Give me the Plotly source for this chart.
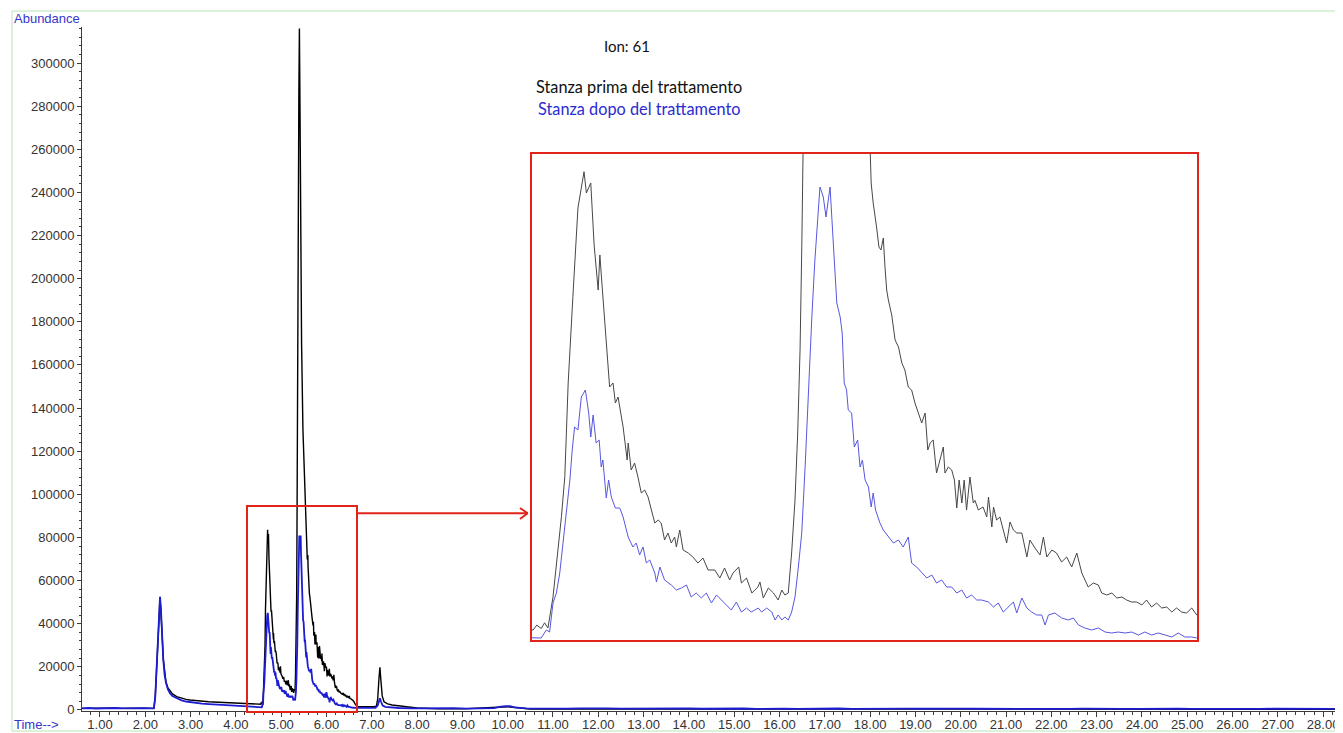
import plotly.graph_objects as go

# ---------------- data (time in min, abundance) ----------------
# "Stanza prima del trattamento" (black trace)
prima = [
    (0.60, 700), (0.80, 850), (1.00, 650), (1.20, 800), (1.40, 700), (1.60, 850), (1.80, 650),
    (2.00, 800), (2.15, 700), (2.19, 800), (2.22, 6000), (2.265, 23000), (2.295, 38600),
    (2.325, 52500), (2.345, 47000), (2.362, 38600), (2.398, 23500), (2.425, 17000),
    (2.457, 13000), (2.50, 10200), (2.545, 8700), (2.60, 7400), (2.693, 6200), (2.80, 5400),
    (2.90, 4900), (2.987, 4600), (3.10, 4300), (3.25, 4000), (3.40, 3800), (3.50, 3700),
    (3.65, 3500), (3.80, 3300), (3.95, 3200), (4.09, 3000), (4.20, 2800), (4.35, 2700),
    (4.45, 2600), (4.50, 2700),
    (4.549, 2635), (4.560, 3500), (4.573, 2900), (4.583, 3900), (4.593, 3000), (4.608, 8460),
    (4.633, 22635), (4.643, 29695), (4.653, 46230), (4.667, 61460), (4.682, 77120),
    (4.700, 83525), (4.707, 79765), (4.720, 81530), (4.730, 70590), (4.742, 62645),
    (4.747, 68825), (4.753, 63880), (4.766, 53290), (4.776, 45525), (4.786, 46230),
    (4.793, 42700), (4.801, 43760), (4.809, 40935), (4.816, 38460), (4.828, 32640),
    (4.831, 35640), (4.840, 30875), (4.850, 32100), (4.860, 29640), (4.870, 26815),
    (4.880, 27345), (4.890, 26110), (4.900, 23815), (4.910, 21520), (4.920, 22050),
    (4.929, 21520), (4.939, 18520), (4.949, 19755), (4.959, 17990), (4.969, 19050),
    (4.974, 17285), (4.984, 20285), (4.994, 16755), (5.009, 16225), (5.023, 15520),
    (5.038, 14460), (5.053, 15345), (5.068, 13225), (5.088, 13225), (5.103, 11815),
    (5.117, 13580), (5.132, 11460), (5.142, 12695), (5.159, 13755), (5.167, 10930),
    (5.182, 11815), (5.198, 9165), (5.216, 10225), (5.222, 11105), (5.232, 8285),
    (5.247, 10050), (5.262, 9165), (5.276, 7930), (5.287, 9695), (5.296, 8810),
    (5.306, 9165), (5.316, 16225), (5.326, 25580), (5.334, 37405), (5.341, 52055),
    (5.346, 69705), (5.351, 87355), (5.360, 130000), (5.375, 210000), (5.390, 285000),
    (5.402, 316000), (5.415, 280000), (5.430, 220000), (5.450, 170000), (5.480, 130000),
    (5.510, 108000), (5.535, 95000), (5.549, 87355), (5.552, 81530), (5.558, 77990),
    (5.568, 73765), (5.575, 70235), (5.581, 69705), (5.588, 71825), (5.593, 66705),
    (5.598, 62645), (5.603, 60885), (5.613, 58230), (5.623, 53820), (5.633, 52590),
    (5.643, 49760), (5.652, 48525), (5.662, 45525), (5.672, 44995), (5.682, 42700),
    (5.692, 40935), (5.702, 39170), (5.712, 40935), (5.720, 34405), (5.727, 35640),
    (5.736, 36170), (5.746, 30345), (5.756, 32640), (5.766, 34935), (5.771, 30345),
    (5.781, 31405), (5.791, 30875), (5.799, 29110), (5.806, 24165), (5.813, 29110),
    (5.821, 25050), (5.828, 29110), (5.835, 23815), (5.845, 29640), (5.855, 25050),
    (5.860, 25500), (5.870, 23815), (5.884, 24345), (5.895, 22580), (5.900, 26110),
    (5.910, 20815), (5.915, 24345), (5.924, 22050), (5.934, 22580), (5.944, 20285),
    (5.954, 17990), (5.964, 21700), (5.974, 20285), (5.984, 19755), (5.999, 19755),
    (6.014, 15520), (6.023, 18520), (6.038, 17110), (6.053, 15875), (6.063, 19050),
    (6.073, 15520), (6.088, 16755), (6.102, 16225), (6.117, 14640), (6.132, 15520),
    (6.147, 13755), (6.162, 16225), (6.177, 12695), (6.186, 11460), (6.196, 10225),
    (6.211, 10930), (6.226, 10580), (6.236, 9165), (6.251, 8810), (6.266, 9165),
    (6.281, 8285), (6.296, 8460), (6.310, 7930), (6.325, 7577), (6.340, 7577),
    (6.355, 7050), (6.369, 7930), (6.384, 6695), (6.399, 7400), (6.414, 6520),
    (6.429, 6695), (6.444, 5810), (6.458, 6520), (6.473, 5810), (6.488, 5635),
    (6.503, 6520), (6.518, 5285),
    (6.55, 5000), (6.60, 4000), (6.64, 2500), (6.68, 1600), (6.75, 1500), (6.85, 1400),
    (6.95, 1500), (7.05, 1450), (7.10, 1700), (7.13, 5000), (7.16, 15000), (7.18, 19800),
    (7.20, 14000), (7.23, 6500), (7.27, 3800), (7.35, 2800), (7.45, 2300), (7.60, 1900),
    (7.80, 1400), (8.00, 900), (8.50, 500), (9.00, 500), (10.00, 1500), (10.50, 450),
    (12.0, 400), (16.0, 380), (20.0, 350), (24.0, 350), (28.4, 330),
]

# "Stanza dopo del trattamento" (blue trace)
dopo = [
    (0.60, 750), (0.75, 900), (0.90, 650), (1.05, 850), (1.20, 700), (1.35, 900), (1.50, 700),
    (1.65, 850), (1.80, 650), (1.95, 800), (2.10, 700), (2.19, 700), (2.22, 6000),
    (2.265, 23185), (2.295, 38630), (2.325, 52400), (2.345, 47000), (2.362, 38630),
    (2.398, 23185), (2.425, 16500), (2.457, 12520), (2.50, 9500), (2.545, 7745),
    (2.60, 6400), (2.693, 5380), (2.80, 4400), (2.90, 3900), (2.987, 3600), (3.10, 3200),
    (3.25, 2900), (3.40, 2700), (3.50, 2600), (3.65, 2400), (3.80, 2200), (3.95, 2050),
    (4.09, 1950), (4.20, 1850), (4.35, 1750), (4.45, 1650), (4.53, 1300),
    (4.549, 1220), (4.573, 1220), (4.588, 2635), (4.598, 2280), (4.608, 7400),
    (4.618, 9165), (4.628, 12695), (4.638, 17990), (4.647, 22935), (4.658, 29110),
    (4.665, 34405), (4.672, 38460), (4.682, 37935), (4.692, 43760), (4.704, 44995),
    (4.714, 40935), (4.720, 36700), (4.727, 40580), (4.736, 35640), (4.745, 36170),
    (4.751, 31405), (4.756, 32640), (4.766, 25930), (4.773, 29110), (4.781, 26110),
    (4.793, 24165), (4.806, 24165), (4.816, 22580), (4.831, 19050), (4.845, 17285),
    (4.855, 17990), (4.865, 15875), (4.875, 17285), (4.885, 14460), (4.895, 15000),
    (4.910, 12695), (4.915, 11105), (4.925, 13755), (4.939, 11460), (4.959, 10580),
    (4.974, 9695), (4.989, 10050), (5.004, 10580), (5.018, 8460), (5.033, 9165),
    (5.048, 8285), (5.063, 9165), (5.078, 7400), (5.093, 8810), (5.108, 7930),
    (5.122, 7050), (5.137, 6165), (5.152, 7577), (5.167, 5810), (5.182, 6520),
    (5.196, 5810), (5.207, 6165), (5.217, 6520), (5.227, 5810), (5.242, 6520),
    (5.257, 5810), (5.267, 4400), (5.276, 5285), (5.287, 4400), (5.296, 4940),
    (5.306, 4400), (5.316, 5810), (5.326, 8460), (5.336, 13755), (5.346, 19755),
    (5.356, 31405), (5.366, 46230), (5.376, 57880), (5.385, 67940), (5.393, 75530),
    (5.400, 80825), (5.410, 79060), (5.418, 75530), (5.430, 80825), (5.437, 73235),
    (5.445, 66705), (5.450, 60350), (5.460, 57880), (5.466, 55055), (5.472, 46230),
    (5.479, 44995), (5.484, 41465), (5.494, 40935), (5.502, 34935), (5.512, 36170),
    (5.519, 31405), (5.526, 32640), (5.534, 29110), (5.544, 27875), (5.552, 24345),
    (5.558, 26815), (5.565, 23815), (5.578, 21520), (5.588, 20285), (5.603, 19050),
    (5.618, 17990), (5.633, 18520), (5.647, 17285), (5.662, 19050), (5.672, 14460),
    (5.687, 13755), (5.702, 12695), (5.717, 11815), (5.732, 12340), (5.746, 10930),
    (5.761, 11460), (5.776, 10225), (5.791, 10225), (5.806, 9165), (5.821, 9695),
    (5.835, 8285), (5.850, 8810), (5.865, 7930), (5.880, 7930), (5.900, 7577),
    (5.915, 6695), (5.929, 7400), (5.944, 5810), (5.959, 6695), (5.974, 7577),
    (5.984, 5635), (5.999, 8285), (6.014, 6520), (6.028, 5810), (6.043, 5285),
    (6.058, 5285), (6.068, 3520), (6.078, 5285), (6.097, 5635), (6.117, 4760),
    (6.137, 4400), (6.152, 4760), (6.167, 3520), (6.186, 2990), (6.206, 2635),
    (6.226, 2990), (6.246, 2280), (6.266, 2105), (6.285, 2280), (6.305, 2105),
    (6.325, 2280), (6.345, 1750), (6.364, 2280), (6.384, 1750), (6.404, 2105),
    (6.424, 1750), (6.444, 1400), (6.463, 2105), (6.483, 1400), (6.503, 1400),
    (6.518, 1220),
    (6.56, 1100), (6.62, 1000), (6.70, 950), (6.80, 850), (6.95, 1000), (7.08, 950),
    (7.13, 2000), (7.16, 4500), (7.18, 5400), (7.20, 4000), (7.24, 2000), (7.30, 1400),
    (7.45, 1100), (7.60, 900), (7.90, 700), (8.20, 850), (8.50, 650), (8.80, 800),
    (9.10, 600), (9.40, 750), (9.70, 850), (9.85, 1500), (9.95, 1800), (10.05, 1700),
    (10.15, 1200), (10.40, 750), (10.70, 600), (11.00, 750), (11.30, 600), (11.60, 700),
    (11.90, 550), (12.20, 700), (12.50, 600), (12.80, 650), (13.10, 550), (13.40, 650),
    (13.70, 550), (14.00, 700), (14.30, 550), (14.60, 650), (14.90, 550), (15.20, 650),
    (15.50, 500), (15.80, 650), (16.10, 550), (16.40, 500), (16.70, 600), (17.00, 550),
    (17.30, 650), (17.60, 500), (17.90, 600), (18.20, 550), (18.50, 500), (18.80, 600),
    (19.10, 550), (19.40, 650), (19.70, 500), (20.00, 600), (20.30, 550), (20.60, 500),
    (20.90, 650), (21.20, 500), (21.50, 600), (21.80, 450), (22.10, 550), (22.40, 500),
    (22.70, 600), (23.00, 450), (23.30, 550), (23.60, 500), (23.90, 450), (24.20, 600),
    (24.50, 500), (24.80, 550), (25.10, 450), (25.40, 600), (25.70, 500), (26.00, 450),
    (26.30, 600), (26.60, 450), (26.90, 550), (27.20, 500), (27.50, 600), (27.80, 450),
    (28.10, 550), (28.40, 500),
]

t_prima = [p[0] for p in prima]
v_prima = [p[1] for p in prima]
t_dopo = [p[0] for p in dopo]
v_dopo = [p[1] for p in dopo]

y_tick_vals = list(range(0, 300001, 20000))
ion_label = "Ion: 61"
name_prima = "Stanza prima del trattamento"
name_dopo = "Stanza dopo del trattamento"

# ---------------- geometry (window pixels; page body has an 8px margin) ----------------
WIN_W, WIN_H, OFF = 1343, 733, 8
W, H = WIN_W - OFF, WIN_H - OFF
PL, PT, PR, PB = 82, 27, 1341, 711          # plot area edges in window pixels
ML, MT = PL - OFF, PT - OFF
MR = W - (PR - OFF)
MB = H - (PB - OFF)
PW, PH = PR - PL, PB - PT


def px(xp):
    return (xp - PL) / PW


def py(yp):
    return (PB - yp) / PH


BLACK = "#000000"
BLUE = "#1c1cd2"
RED = "#e2231a"
AXIS_COL = "#3a3a3a"
TXT_BLUE = "#3535c8"

fig = go.Figure()

# main chromatogram
fig.add_trace(go.Scatter(x=t_prima, y=v_prima, mode="lines", name=name_prima,
                         line=dict(color=BLACK, width=1.4), xaxis="x", yaxis="y",
                         showlegend=False, hoverinfo="skip"))
fig.add_trace(go.Scatter(x=t_dopo, y=v_dopo, mode="lines", name=name_dopo,
                         line=dict(color=BLUE, width=1.8), xaxis="x", yaxis="y",
                         showlegend=False, hoverinfo="skip"))
# magnified inset
fig.add_trace(go.Scatter(x=t_prima, y=v_prima, mode="lines", name=name_prima,
                         line=dict(color="#474747", width=1), xaxis="x2", yaxis="y2",
                         showlegend=False, hoverinfo="skip"))
fig.add_trace(go.Scatter(x=t_dopo, y=v_dopo, mode="lines", name=name_dopo,
                         line=dict(color="#5757e0", width=1), xaxis="x2", yaxis="y2",
                         showlegend=False, hoverinfo="skip"))

tick_font = dict(family="Liberation Sans, Arial, sans-serif", size=13, color="#333333")

fig.update_layout(
    width=W, height=H,
    margin=dict(l=ML, r=MR, t=MT, b=MB, autoexpand=False),
    paper_bgcolor="white", plot_bgcolor="white",
    showlegend=False,
    xaxis=dict(range=[0.603, 28.395], showgrid=False, zeroline=False,
               showline=True, linecolor=AXIS_COL, linewidth=1,
               ticks="outside", ticklen=5, tickcolor=AXIS_COL, tickwidth=1,
               tick0=0, dtick=1, tickformat=".2f", tickfont=tick_font,
               ticklabelstandoff=-4,
               minor=dict(ticks="outside", dtick=0.2, ticklen=3, tickcolor=AXIS_COL),
               fixedrange=True),
    yaxis=dict(range=[-500, 316700], showgrid=False, zeroline=False,
               showline=True, linecolor=AXIS_COL, linewidth=1,
               ticks="outside", ticklen=4, tickcolor=AXIS_COL, tickwidth=1,
               tickvals=y_tick_vals, tickformat="d", tickfont=tick_font,
               minor=dict(ticks="outside", dtick=4000, ticklen=2, tickcolor=AXIS_COL),
               fixedrange=True),
    xaxis2=dict(domain=[px(531), px(1198)], range=[4.5427, 6.5217], anchor="y2",
                visible=False, fixedrange=True),
    yaxis2=dict(domain=[py(641), py(153)], range=[695, 86825], anchor="x2",
                visible=False, fixedrange=True),
)

shapes = [
    # light green outer frame
    dict(type="rect", xref="paper", yref="paper", x0=px(12), x1=px(1342), y0=py(731), y1=py(11),
         line=dict(color="#b5e6b5", width=1), layer="below"),
    # red box on the main chart
    dict(type="rect", xref="paper", yref="paper", x0=px(247), x1=px(357), y0=py(712), y1=py(506),
         line=dict(color=RED, width=2)),
    # red box around the inset
    dict(type="rect", xref="paper", yref="paper", x0=px(531), x1=px(1198), y0=py(641), y1=py(153),
         line=dict(color=RED, width=2)),
    # arrow
    dict(type="line", xref="paper", yref="paper", x0=px(357), x1=px(527.5), y0=py(513.3), y1=py(513.3),
         line=dict(color=RED, width=2)),
    dict(type="line", xref="paper", yref="paper", x0=px(520), x1=px(527.7), y0=py(508), y1=py(513.3),
         line=dict(color=RED, width=2)),
    dict(type="line", xref="paper", yref="paper", x0=px(520), x1=px(527.7), y0=py(519), y1=py(513.3),
         line=dict(color=RED, width=2)),
]
fig.update_layout(shapes=shapes)

label_font = dict(family="Liberation Sans, Arial, sans-serif", size=13, color=TXT_BLUE)
note_font = "Lato, Open Sans, sans-serif"
annotations = [
    dict(text="Abundance", xref="paper", yref="paper", x=px(12), y=py(18),
         xanchor="left", yanchor="middle", showarrow=False, font=label_font),
    dict(text="Time-->", xref="paper", yref="paper", x=px(12), y=py(724),
         xanchor="left", yanchor="middle", showarrow=False, font=label_font),
    dict(text=ion_label, xref="paper", yref="paper", x=px(627), y=py(46),
         xanchor="center", yanchor="middle", showarrow=False,
         font=dict(family=note_font, size=15, color="#111111")),
    dict(text=name_prima, xref="paper", yref="paper", x=px(534), y=py(86.5),
         xanchor="left", yanchor="middle", showarrow=False,
         font=dict(family=note_font, size=16.3, color="#111111")),
    dict(text=name_dopo, xref="paper", yref="paper", x=px(536), y=py(108.3),
         xanchor="left", yanchor="middle", showarrow=False,
         font=dict(family=note_font, size=16.3, color="#2b2bd0")),
]
fig.update_layout(annotations=annotations)

fig.write_html("out.html")
